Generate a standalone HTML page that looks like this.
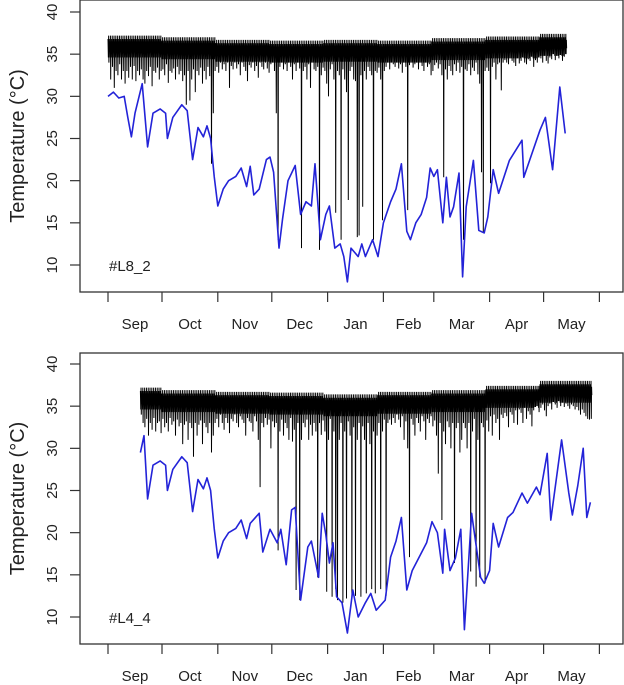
<!DOCTYPE html>
<html><head><meta charset="utf-8"><style>
html,body{margin:0;padding:0;background:#fff;}
svg{display:block;font-family:"Liberation Sans",Arial,sans-serif;}
</style></head><body>
<svg id="chart" width="624" height="685" viewBox="0 0 624 685"></svg>
<script>
// month tick offsets (days since Sep 1) and labels
const monthTickDays = [0,30,61,91,122,153,181,212,242,273];
const monthLabels = ["Sep","Oct","Nov","Dec","Jan","Feb","Mar","Apr","May"];
const yTicks = [10,15,20,25,30,35,40];

// Panel 1 (#L8_2)
const topBlueDays = [0,3,6,9,11,13,15,19,22,25,29,32,33,36,41,44,47,50,53,55,57,59,61,64,67,71,74,77,79,81,84,88,90,92,95,97,100,104,107,110,113,115,118,121,123,126,129,131,133,135,139,141,143,147,150,153,157,160,163,166,168,171,174,177,179,181,183,186,188,190,192,195,197,199,203,206,209,211,214,217,223,230,231,240,243,247,251,254];
const topBlueTemps = [30,30.5,29.8,30,27.5,25.2,28,31.5,24,28,28.5,28,25,27.5,29,28.3,22.5,26.3,25.2,26.5,25,20.5,17,19,20,20.5,21.5,19.3,21.7,18.3,19,22.5,22.8,21,12,15.5,20,21.8,16,17.5,17,22,13,16,17,12,12.5,11,8,12,11,12.5,11,13,11,15,17.5,19,22,14,13,15,16,18,21.5,20.5,21.3,15,20.4,15.7,16.9,20.9,8.6,16.9,22.4,14.1,13.8,15.7,21.3,18.5,22.4,24.8,20.4,26,27.5,21.3,31.1,25.6];
const topBlackStart = 0;
const topBlackLows = [
34,32,33.5,31,33,32.5,33.8,32,33,31.5,
33,32.2,33.5,32,33.6,31.8,33,32.5,33.2,32,
31.5,33,32.4,33.5,31.2,33,32.8,33.4,32,33,
33.2,32.5,33.8,31.6,33,32.8,33.3,32,33.5,32.6,
33,31.8,32.5,29,33,29.5,32,33.2,30.5,33,
32.5,33.4,31.5,33,32,33.5,32.4,22,28,33,
33.5,32.8,34,33.2,33.8,33,34,31,33.6,33.2,
34,33.3,33.8,32.5,34,33.5,33,31.8,33.7,33.4,
34,33,33.6,32.2,34,33.5,33.2,34,33.3,32.8,
33.8,34,33,28,13,33.5,34,33.2,33.8,33,
34,33.5,32,33.8,33,34,33.3,12,33,33.5,
32,33.8,31,34,33.2,33,33.5,11.8,32.5,33.4,
33,31.5,30,33.2,33.8,32,16.2,33,32.5,13,
33.2,32,30.5,17.7,33,33.5,32,31.8,13.3,13.5,
32.5,16.9,33,32,33.5,33,32.5,13,33,32.8,
33.4,32,15.3,33,33.5,34,33.2,34,33.8,33.5,
34,33.3,33.8,32.8,34,33.5,16.5,33.7,34,33.4,
33.8,34,33.2,34,33.6,33,34,33.5,33.8,32.5,
33,33.7,34,33.3,33.8,32.5,20.4,33.2,32,33.6,
33,32.5,33.8,33,34,32.8,33.5,13,33.2,33,
33.8,32.5,33.4,33,34,32.6,31.5,21,13.8,33,
33.4,33,19.7,33.5,34,32,33.8,34,30.7,34,
34.3,34,33.8,34.5,34.2,34,33.6,34.5,33.9,34.2,
34.6,34,33.8,34.4,34.2,34.7,33.5,34.3,34,34.6,
34.5,34,34.8,34.2,33.9,34.6,34.4,35,34.3,34.8,
34.5,34.9,34.2,34.7,35];
const topBlackMonthHighs = [36.8,36.6,36.3,36.2,36.3,36.2,36.5,36.7,37];

// Panel 2 (#L4_4)
const botBlueDays = [18,20,22,25,29,32,33,36,41,44,47,50,53,55,57,59,61,64,67,71,74,77,79,84,86,90,94,96,99,102,104,107,111,113,117,119,121,123,125,127,130,133,136,139,143,146,149,154,157,160,163,166,169,177,180,183,186,187,190,193,196,198,202,207,209,212,214,217,222,225,230,233,238,240,244,246,252,256,258,261,264,266,268];
const botBlueTemps = [29.5,31.5,24,28,28.5,28,25,27.5,29,28.3,22.5,26.3,25.2,26.5,25,20.5,17,19,20,20.5,21.5,19.3,21.1,22.3,17.7,20.4,18.8,20.4,16.2,22.7,23,12,18.3,19,14.7,22.3,19.8,16.4,18.8,12.4,11.7,8.1,13.2,10,11.7,12.8,10.8,12,17.1,19,21.8,13.2,15.5,18.8,21.3,20,15.2,20.4,15.5,17,20.4,8.5,22.3,14.7,14,15.5,21.1,18.3,21.8,22.4,24.7,23.5,25.4,24.5,29.4,21.5,31,24.7,22.1,25.6,30,21.8,23.6];
const botBlackStart = 18;
const botBlackLows = [
34,33,32.5,33.5,31.5,33,32.2,33.6,32,33,
33.2,31.8,33.5,32.5,33,32,33.6,32.8,33.2,31.5,
33.4,32.6,33,30.5,32.8,33.2,31,33,32.4,29,
33,31.5,32.8,33.3,30.5,33,32.5,31.8,33,29.5,
31.5,33,33.5,32.5,34,33,32.2,33.6,33,31.8,
33.5,33.2,34,33,32.5,33.8,33.4,33,31.5,33.6,
33.2,33,32,33.8,33.2,31,25.4,33,32.5,33.6,
32.8,33.4,30,33.2,32.5,33,17.9,32,33.4,31.5,
33,32.4,31,33.6,30.8,32.2,13.2,33,12,31,
33,32.5,33.4,31,32.8,31.5,33,32,14.7,33,
31.6,33.3,32,13,31,33.5,12.4,32,13.3,12,
31,33,11.7,32,12.2,33.2,31.5,12.4,32.5,12.5,
31,33,12.4,32.6,31,12.8,33,30.5,13.3,32,
12.8,31.5,33,13.3,32,33.4,12.5,33,33.4,32.8,
33.6,33,34,33.4,32.5,33.8,31,33.2,30,17.1,
33.5,32.8,31.5,33.6,33,32,33.8,33.2,31,33.5,
33,33.8,32.6,33.3,31.5,27,33,21.5,32,30.5,
33.2,32.5,30,33,16.4,32.4,33,29.5,31,33,
32.4,30,33,15.4,32,33.5,13.6,31,14.7,33,
32.5,14,33.3,32,33.8,31.5,34,33,33.5,31,
34,33.6,34.2,33.8,32.5,34.3,34,33,34.5,32.8,
34.6,34.2,33,34.8,33.5,34.4,34,32.6,34.5,34.9,
35,34.3,34.8,35.2,34.5,33.8,35,35.3,34.6,35.5,
35.2,34.8,35.6,35,35.4,34.9,35.3,35,34.7,35.2,
35,34.6,34.9,34.5,34,34.6,34.2,33.8,33.5,33.4,
33.5];
const botBlackMonthHighs = [36.8,36.5,36.3,36.2,36,36.3,36.5,37,37.6];

const NS = "http://www.w3.org/2000/svg";
const svg = document.getElementById("chart");
function mk(tag, attrs, parent){
  const e = document.createElementNS(NS, tag);
  for (const k in attrs) e.setAttribute(k, attrs[k]);
  (parent||svg).appendChild(e);
  return e;
}

function drawPanel(cfg){
  const g = mk("g", {});
  
  
  const xS = d => 108 + d * 1.8;
  const yS = t => cfg.y10 - (t - 10) * ((cfg.y10 - cfg.y40) / 30);

  // black series: several oscillations per day (high / daily low / shallow dips)
  let pts = [];
  cfg.lows.forEach((lo, i) => {
    const d = cfg.start + i;
    const hi = cfg.highs[Math.min(cfg.highs.length - 1, Math.floor(d / 30))];
    const shallow = Math.max(lo, hi - 2.2);
    const mid = Math.max(lo, hi - 1.3);
    pts.push(xS(d).toFixed(2) + "," + yS(hi).toFixed(2));
    pts.push(xS(d + 0.2).toFixed(2) + "," + yS(shallow).toFixed(2));
    pts.push(xS(d + 0.35).toFixed(2) + "," + yS(hi + 0.4).toFixed(2));
    pts.push(xS(d + 0.5).toFixed(2) + "," + yS(lo).toFixed(2));
    pts.push(xS(d + 0.65).toFixed(2) + "," + yS(hi - 0.3).toFixed(2));
    pts.push(xS(d + 0.8).toFixed(2) + "," + yS(mid).toFixed(2));
  });
  const bl = mk("polyline", {points: pts.join(" "), fill: "none", stroke: "#000", "stroke-width": "1", "stroke-linejoin": "miter"}, g);
  
  

  // blue series
  const bp = cfg.blueDays.map((d, i) => xS(d).toFixed(2) + "," + yS(cfg.blueTemps[i]).toFixed(2)).join(" ");
  const bu = mk("polyline", {points: bp, fill: "none", stroke: "#2323d8", "stroke-width": "1.6", "stroke-linejoin": "round"}, g);
  
  

  // box
  const box = mk("rect", {x: 80, y: cfg.top, width: 543, height: cfg.bottom - cfg.top, fill: "none", stroke: "#333", "stroke-width": "1.3"}, g);
  
  

  // y ticks
  yTicks.forEach(t => {
    const y = yS(t);
    const tk = mk("line", {x1: 70, x2: 80, y1: y, y2: y, stroke: "#333", "stroke-width": "1.2"}, g);
    
    
    const lb = mk("text", {x: 0, y: 0, transform: "translate(57," + y + ") rotate(-90)", "text-anchor": "middle", "font-size": "15", fill: "#222"}, g);
    lb.textContent = t;
    
    
  });
  // x ticks
  monthTickDays.forEach(d => {
    const tk = mk("line", {x1: xS(d), x2: xS(d), y1: cfg.bottom, y2: cfg.bottom + 10, stroke: "#333", "stroke-width": "1.2"}, g);
    
    
  });
  monthLabels.forEach((m, i) => {
    const x = (xS(monthTickDays[i]) + xS(monthTickDays[i + 1])) / 2;
    const lb = mk("text", {x: x, y: cfg.bottom + 37, "text-anchor": "middle", "font-size": "15", fill: "#222"}, g);
    lb.textContent = m;
    
    
  });
  // y title
  const yt = mk("text", {x: 0, y: 0, transform: "translate(24," + ((cfg.top + cfg.bottom) / 2) + ") rotate(-90)", "text-anchor": "middle", "font-size": "20", fill: "#222"}, g);
  yt.textContent = "Temperature (°C)";
  
  
  // panel label
  const pl = mk("text", {x: 109, y: cfg.y10 + 6, "font-size": "15", fill: "#222"}, g);
  pl.textContent = cfg.label;
  
  
}

drawPanel({name: "panel-l8-2", label: "#L8_2", top: 0, bottom: 292, y40: 12, y10: 265,
  start: topBlackStart, lows: topBlackLows, highs: topBlackMonthHighs, blueDays: topBlueDays, blueTemps: topBlueTemps});
drawPanel({name: "panel-l4-4", label: "#L4_4", top: 353, bottom: 644, y40: 364, y10: 617,
  start: botBlackStart, lows: botBlackLows, highs: botBlackMonthHighs, blueDays: botBlueDays, blueTemps: botBlueTemps});
</script>
</body></html>
